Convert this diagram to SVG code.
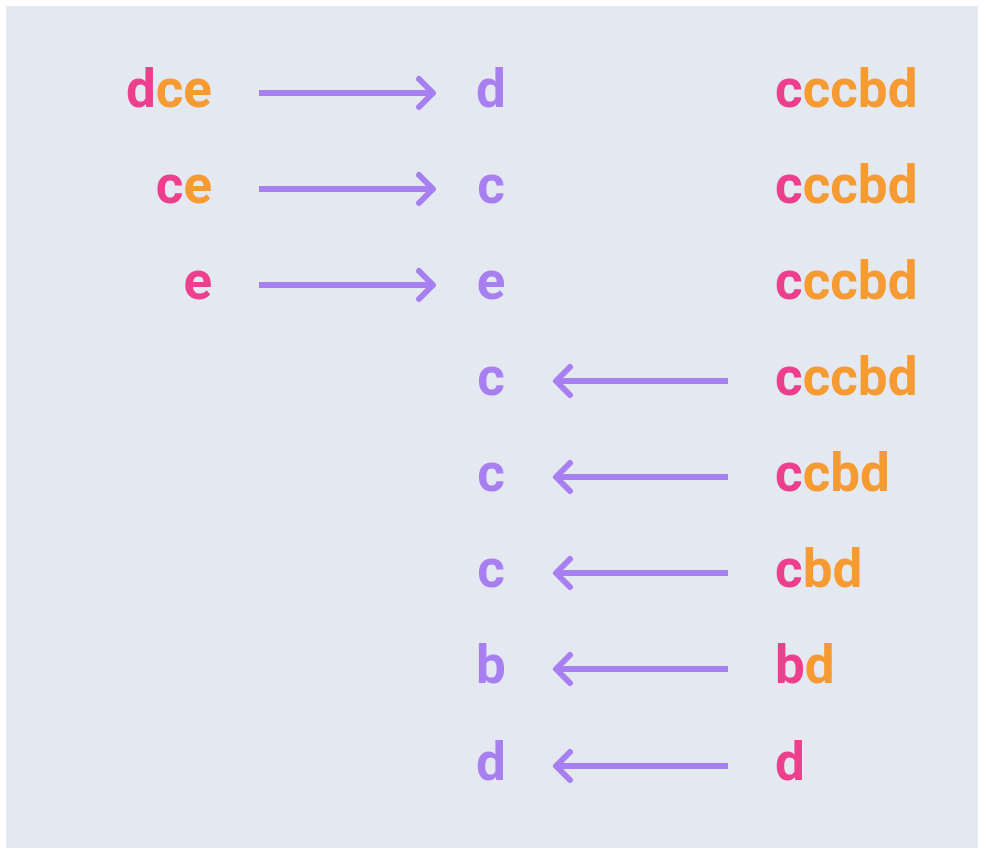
<svg xmlns="http://www.w3.org/2000/svg" width="986" height="858" viewBox="0 0 986 858">
  <style>
    .t { font-family: Roboto, "Liberation Sans", sans-serif; font-weight: 700; font-size: 53px; }
    .p { fill: #ee3f8f; }
    .o { fill: #f69a32; }
    .m { fill: #a87ff0; }
    .arrow { stroke: #a87ff0; stroke-width: 6; fill: none; stroke-linecap: butt; stroke-linejoin: round; }
    .head { stroke-linecap: round; }
  </style>
  <rect x="0" y="0" width="986" height="858" fill="#ffffff"/>
  <rect x="6" y="6" width="972" height="842" fill="#e4e9f1"/>

  <!-- left column: suffixes -->
  <g id="left-1"><text class="t" x="212" y="107" text-anchor="end"><tspan class="p">d</tspan><tspan class="o">ce</tspan></text></g>
  <g id="left-2"><text class="t" x="212" y="203" text-anchor="end"><tspan class="p">c</tspan><tspan class="o">e</tspan></text></g>
  <g id="left-3"><text class="t" x="212" y="299" text-anchor="end"><tspan class="p">e</tspan></text></g>

  <!-- middle column: output letters -->
  <g id="mid-1"><text class="t m" x="491" y="107" text-anchor="middle">d</text></g>
  <g id="mid-2"><text class="t m" x="491" y="203" text-anchor="middle">c</text></g>
  <g id="mid-3"><text class="t m" x="491" y="299" text-anchor="middle">e</text></g>
  <g id="mid-4"><text class="t m" x="491" y="395" text-anchor="middle">c</text></g>
  <g id="mid-5"><text class="t m" x="491" y="491" text-anchor="middle">c</text></g>
  <g id="mid-6"><text class="t m" x="491" y="587" text-anchor="middle">c</text></g>
  <g id="mid-7"><text class="t m" x="491" y="683" text-anchor="middle">b</text></g>
  <g id="mid-8"><text class="t m" x="491" y="780" text-anchor="middle">d</text></g>

  <!-- right column: remaining strings -->
  <g id="right-1"><text class="t" x="775" y="107"><tspan class="p">c</tspan><tspan class="o">ccbd</tspan></text></g>
  <g id="right-2"><text class="t" x="775" y="203"><tspan class="p">c</tspan><tspan class="o">ccbd</tspan></text></g>
  <g id="right-3"><text class="t" x="775" y="299"><tspan class="p">c</tspan><tspan class="o">ccbd</tspan></text></g>
  <g id="right-4"><text class="t" x="775" y="395"><tspan class="p">c</tspan><tspan class="o">ccbd</tspan></text></g>
  <g id="right-5"><text class="t" x="775" y="491"><tspan class="p">c</tspan><tspan class="o">cbd</tspan></text></g>
  <g id="right-6"><text class="t" x="775" y="587"><tspan class="p">c</tspan><tspan class="o">bd</tspan></text></g>
  <g id="right-7"><text class="t" x="775" y="683"><tspan class="p">b</tspan><tspan class="o">d</tspan></text></g>
  <g id="right-8"><text class="t" x="775" y="780"><tspan class="p">d</tspan></text></g>

  <!-- connectors -->
  <g id="connectors" class="arrow">
    <path d="M259 93 H433"/><path class="head" d="M419 79 L433 93 L419 107"/>
    <path d="M259 189 H433"/><path class="head" d="M419 175 L433 189 L419 203"/>
    <path d="M259 285 H433"/><path class="head" d="M419 271 L433 285 L419 299"/>
    <path d="M728 381 H556"/><path class="head" d="M570 367 L556 381 L570 395"/>
    <path d="M728 477 H556"/><path class="head" d="M570 463 L556 477 L570 491"/>
    <path d="M728 573 H556"/><path class="head" d="M570 559 L556 573 L570 587"/>
    <path d="M728 669 H556"/><path class="head" d="M570 655 L556 669 L570 683"/>
    <path d="M728 766 H556"/><path class="head" d="M570 752 L556 766 L570 780"/>
  </g>
</svg>
